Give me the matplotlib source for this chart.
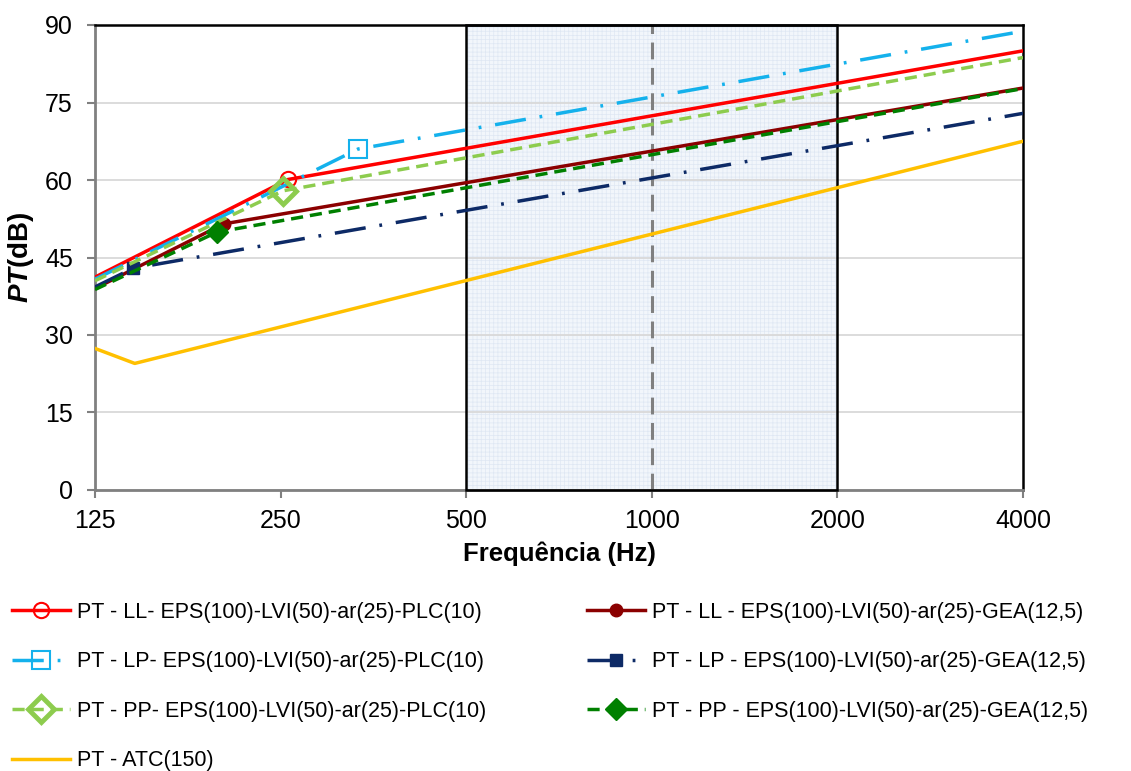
import matplotlib
matplotlib.use("Agg")
import matplotlib.pyplot as plt
from matplotlib.patches import Rectangle
import matplotlib.ticker as mticker

plt.rcParams['font.family'] = ['Liberation Sans', 'DejaVu Sans']
plt.rcParams['mathtext.fontset'] = 'custom'
plt.rcParams['mathtext.rm'] = 'Liberation Sans'
plt.rcParams['mathtext.it'] = 'Liberation Sans:italic'
plt.rcParams['mathtext.bf'] = 'Liberation Sans:bold'
plt.rcParams['mathtext.bfit'] = 'Liberation Sans:bold:italic'
plt.rcParams['hatch.linewidth'] = 0.5

# Frequency ticks (Hz) and level ticks (dB)
freq_ticks = [125, 250, 500, 1000, 2000, 4000]
level_ticks = [0, 15, 30, 45, 60, 75, 90]

# Each curve: start (125 Hz), knee, end (4000 Hz)
ll_plc_f = [125, 257, 4000]
ll_plc_db = [41.2, 60.1, 85.0]

ll_gea_f = [125, 202, 4000]
ll_gea_db = [39.0, 51.5, 77.8]

lp_plc_f = [125, 334, 4000]
lp_plc_db = [40.8, 66.0, 88.8]

lp_gea_f = [125, 144, 4000]
lp_gea_db = [39.3, 42.9, 72.9]

pp_plc_f = [125, 252, 4000]
pp_plc_db = [40.5, 57.9, 83.7]

pp_gea_f = [125, 197, 4000]
pp_gea_db = [38.8, 49.9, 77.7]

atc_f = [125, 145, 4000]
atc_db = [27.4, 24.5, 67.5]

labels = [
    "PT - LL- EPS(100)-LVI(50)-ar(25)-PLC(10)",
    "PT - LL - EPS(100)-LVI(50)-ar(25)-GEA(12,5)",
    "PT - LP- EPS(100)-LVI(50)-ar(25)-PLC(10)",
    "PT - LP - EPS(100)-LVI(50)-ar(25)-GEA(12,5)",
    "PT - PP- EPS(100)-LVI(50)-ar(25)-PLC(10)",
    "PT - PP - EPS(100)-LVI(50)-ar(25)-GEA(12,5)",
    "PT - ATC(150)",
]

fig = plt.figure(figsize=(11.31, 7.71), dpi=100)
ax = fig.add_axes([95 / 1131, 1 - 490 / 771, (1023 - 95) / 1131, (490 - 25) / 771])
ax.set_xscale('log', base=2)
ax.set_xlim(125, 4000)
ax.set_ylim(0, 90)

# Highlighted band 500-2000 Hz
band = Rectangle((500, 0), 1500, 90, facecolor='#f2f6fb', edgecolor='#dfe7f3',
                 hatch='++++', linewidth=0, zorder=0.5)
ax.add_patch(band)
ax.add_patch(Rectangle((500, 0), 1500, 90, facecolor='none', edgecolor='black',
                       linewidth=1.8, zorder=3, clip_on=False))
ax.axvline(1000, color='#808080', lw=2.2, dashes=(5.5, 2.8), zorder=2.5)

ax.set_yticks(level_ticks)
ax.grid(axis='y', color='#d9d9d9', lw=1.3, zorder=1)
ax.set_axisbelow(True)

lw = 2.5
dashdot = (9, 4, 0.8, 4)
series = [
    (ll_plc_f, ll_plc_db, dict(color='#ff0000', ls='-', marker='o', ms=11,
                              mfc='none', mew=1.5)),
    (ll_gea_f, ll_gea_db, dict(color='#8b0000', ls='-', marker='o', ms=9,
                              mfc='#8b0000', mew=1)),
    (lp_plc_f, lp_plc_db, dict(color='#14b1ec', dashes=dashdot, marker='s', ms=13,
                              mfc='none', mew=1.5)),
    (lp_gea_f, lp_gea_db, dict(color='#0d2a66', dashes=dashdot, marker='s', ms=9,
                              mfc='#0d2a66', mew=1)),
    (pp_plc_f, pp_plc_db, dict(color='#8dcc4e', dashes=(3.5, 2), marker='D', ms=13,
                              mfc='none', mew=3.5)),
    (pp_gea_f, pp_gea_db, dict(color='#008000', dashes=(3.5, 2), marker='D', ms=11,
                              mfc='#008000', mew=1)),
    (atc_f, atc_db, dict(color='#ffc000', ls='-')),
]
handles = []
for (f, db, style), lab in zip(series, labels):
    line, = ax.plot(f, db, lw=lw, markevery=[1], label=lab, zorder=4, **style)
    handles.append(line)

ax.set_xticks(freq_ticks)
ax.set_xticklabels([str(v) for v in freq_ticks])
ax.xaxis.set_minor_locator(mticker.NullLocator())
ax.tick_params(axis='both', which='major', labelsize=18, color='#808080',
               length=6, width=1.5, direction='out')
ax.tick_params(axis='y', pad=10)
ax.tick_params(axis='x', pad=8)

for side in ('left', 'bottom'):
    ax.spines[side].set_color('#808080')
    ax.spines[side].set_linewidth(2)
for side in ('top', 'right'):
    ax.spines[side].set_color('black')
    ax.spines[side].set_linewidth(1.8)

ax.set_xlabel('Frequência (Hz)', fontsize=18.5, fontweight='bold')
ax.xaxis.set_label_coords(0.5, (490 - 541) / 465)
ax.set_ylabel(r'$\mathbfit{PT}$' + '(dB)', fontsize=20, fontweight='bold')
ax.yaxis.set_label_coords((36 - 95) / 928, 0.5)

left_idx = [0, 2, 4, 6]
right_idx = [1, 3, 5]
leg_kw = dict(frameon=False, fontsize=15.5, handlelength=2.7, labelspacing=1.32,
              handletextpad=0.3, borderaxespad=0, borderpad=0)
leg1 = fig.legend([handles[i] for i in left_idx], [labels[i] for i in left_idx],
                  loc='upper left', bbox_to_anchor=(12 / 1131, 1 - 602 / 771), **leg_kw)
leg2 = fig.legend([handles[i] for i in right_idx], [labels[i] for i in right_idx],
                  loc='upper left', bbox_to_anchor=(587 / 1131, 1 - 602 / 771), **leg_kw)

fig.savefig('out.png', dpi=100)
